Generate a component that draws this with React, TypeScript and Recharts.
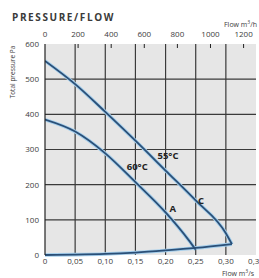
import React from 'react';
import { LineChart, Line, XAxis, YAxis, CartesianGrid, ReferenceDot } from 'recharts';

const curveC = [
  { q: 0, p: 552 }, { q: 0.05, p: 486 }, { q: 0.1, p: 407 }, { q: 0.15, p: 325 },
  { q: 0.2, p: 240 }, { q: 0.25, p: 155 }, { q: 0.3, p: 62 }, { q: 0.31, p: 31 },
];
const curveA = [
  { q: 0, p: 385 }, { q: 0.05, p: 351 }, { q: 0.1, p: 289 }, { q: 0.15, p: 207 },
  { q: 0.2, p: 121 }, { q: 0.238, p: 43 }, { q: 0.25, p: 15 },
];
const systemCurve = [
  { q: 0, p: 0 }, { q: 0.05, p: 1 }, { q: 0.1, p: 3 }, { q: 0.15, p: 7 },
  { q: 0.2, p: 13 }, { q: 0.25, p: 20 }, { q: 0.31, p: 31 },
];
const flowRangeH = [{ h: 0, p: 0 }, { h: 1275, p: 0 }];
const flowTicksS = [0, 0.05, 0.1, 0.15, 0.2, 0.25, 0.3, 0.35];
const flowTicksH = [0, 200, 400, 600, 800, 1000, 1200];
const pressureTicks = [0, 100, 200, 300, 400, 500, 600];
const gridX = [0.05, 0.1, 0.15, 0.2, 0.25, 0.3];
const gridY = [100, 200, 300, 400, 500];
const curveLabels = [
  { text: '55°C', q: 0.204, p: 284 },
  { text: '60°C', q: 0.153, p: 253 },
  { text: 'C', q: 0.259, p: 154 },
  { text: 'A', q: 0.212, p: 131 },
];

const FONT = '"Open Sans", "Noto Sans", sans-serif';
const TEXT = '#3c3c3c';
const CORE = '#2a4f77';
const HALO = '#a6cfec';

const fmtS = (v: number) => (v === 0 ? '0' : v.toFixed(2).replace('.', ','));

const TopTick = (props: any) => {
  const { x, y, payload } = props;
  return (
    <g>
      <text x={x} y={y - 7} textAnchor="middle" fontSize={8} fill={TEXT} fontFamily={FONT}>
        {payload.value}
      </text>
      {payload.value !== 0 && <line x1={x} x2={x} y1={y} y2={y + 4} stroke="#222" strokeWidth={1} />}
    </g>
  );
};

const LabelText = (text: string) => (props: any) => {
  const { viewBox } = props;
  const cx = viewBox.x + (viewBox.width || 0) / 2;
  const cy = viewBox.y + (viewBox.height || 0) / 2;
  return (
    <text x={cx} y={cy} textAnchor="middle" dominantBaseline="central" fontSize={9.5} fontWeight="bold" fill="#222" fontFamily={FONT}>
      {text}
    </text>
  );
};

export default function App() {
  const series = [curveC, curveA, systemCurve];
  return (
    <div style={{ position: 'absolute', left: 0, top: 0, width: 259, height: 278, background: '#fff', fontFamily: FONT }}>
      <div style={{ position: 'absolute', left: 12, top: 10, fontSize: 10, fontWeight: 700, letterSpacing: 1.6, color: '#3a3a3a', whiteSpace: 'nowrap' }}>
        PRESSURE/FLOW
      </div>
      <div style={{ position: 'absolute', left: 224, top: 19, fontSize: 7, color: TEXT, whiteSpace: 'nowrap' }}>
        Flow m<sup style={{ fontSize: 5 }}>3</sup>/h
      </div>
      <div style={{ position: 'absolute', left: 222, top: 268, fontSize: 7, color: TEXT, whiteSpace: 'nowrap' }}>
        Flow m<sup style={{ fontSize: 5 }}>3</sup>/s
      </div>
      <div style={{ position: 'absolute', left: 12, top: 72, width: 0, height: 0 }}>
        <div style={{ position: 'absolute', transform: 'translate(-50%, -50%) rotate(-90deg)', fontSize: 6.5, color: TEXT, whiteSpace: 'nowrap' }}>
          Total pressure Pa
        </div>
      </div>
      <div style={{ position: 'absolute', left: 0, top: 0 }}>
        <LineChart width={259} height={278} margin={{ top: 0, right: 3, bottom: 0, left: 0 }}>
          <CartesianGrid
            xAxisId="b"
            fill="#e6e6e6"
            stroke="#3a3a3a"
            strokeWidth={1.2}
            horizontalValues={gridY}
            verticalValues={gridX}
          />
          <XAxis
            xAxisId="b"
            type="number"
            dataKey="q"
            domain={[0, 0.35]}
            ticks={flowTicksS}
            tickFormatter={fmtS}
            allowDataOverflow
            height={23}
            axisLine={false}
            tickLine={false}
            tickSize={0}
            tickMargin={3}
            interval={0}
            tick={{ fontSize: 8, fill: TEXT, fontFamily: FONT }}
          />
          <XAxis
            xAxisId="t"
            orientation="top"
            type="number"
            dataKey="h"
            domain={[0, 1275]}
            ticks={flowTicksH}
            allowDataOverflow
            height={44}
            axisLine={false}
            tickLine={false}
            tickSize={0}
            tickMargin={0}
            interval={0}
            tick={(p: any) => <TopTick {...p} />}
          />
          <YAxis
            type="number"
            domain={[0, 600]}
            ticks={pressureTicks}
            width={45}
            axisLine={{ stroke: '#222', strokeWidth: 1.2 }}
            tickLine={false}
            tickSize={0}
            tickMargin={6}
            interval={0}
            tick={{ fontSize: 8, fill: TEXT, fontFamily: FONT }}
          />
          <Line xAxisId="t" data={flowRangeH} dataKey="p" stroke="none" dot={false} activeDot={false} isAnimationActive={false} />
          {series.map((d, i) => (
            <Line key={'h' + i} xAxisId="b" data={d} dataKey="p" type="monotone" stroke={HALO} strokeWidth={3.6} dot={false} isAnimationActive={false} />
          ))}
          {series.map((d, i) => (
            <Line key={'c' + i} xAxisId="b" data={d} dataKey="p" type="monotone" stroke={CORE} strokeWidth={1.8} dot={false} isAnimationActive={false} />
          ))}
          {curveLabels.map((l) => (
            <ReferenceDot key={l.text} xAxisId="b" x={l.q} y={l.p} r={0} stroke="none" fill="none" label={LabelText(l.text)} />
          ))}
        </LineChart>
      </div>
    </div>
  );
}
